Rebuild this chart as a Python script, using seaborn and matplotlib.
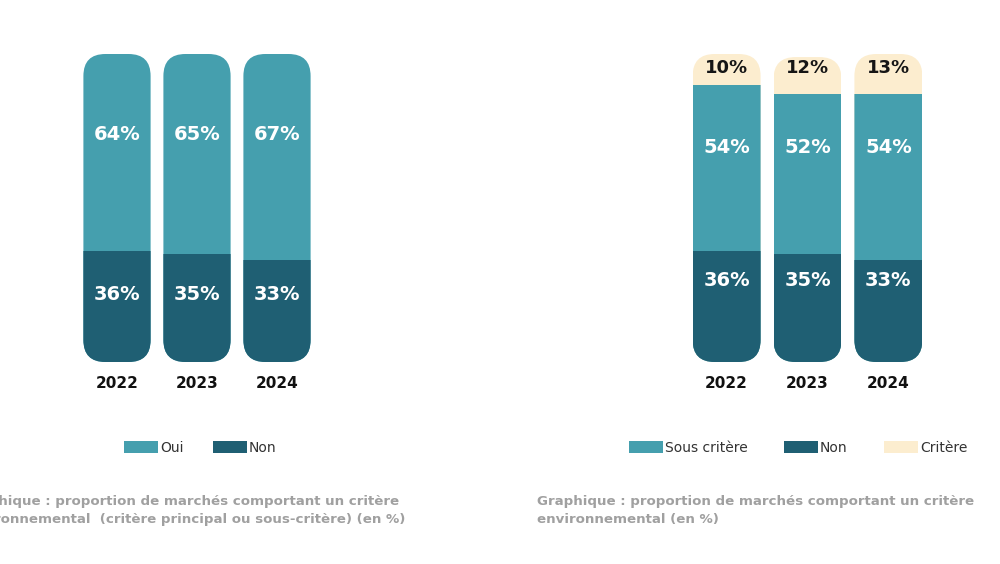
import matplotlib
matplotlib.use("Agg")
import matplotlib.pyplot as plt
import seaborn as sns
import pandas as pd
import numpy as np
from matplotlib.patches import FancyBboxPatch, Patch, BoxStyle

# ---------------- data ----------------
years = ["2022", "2023", "2024"]
left_non = [36, 35, 33]
left_oui = [64, 65, 67]
right_non = [36, 35, 33]
right_sous = [54, 52, 54]
right_critere = [10, 12, 13]

legend_left = ["Oui", "Non"]
legend_right = ["Sous critère", "Non", "Critère"]
caption_left = ("Graphique : proportion de marchés comportant un critère\n"
                "environnemental  (critère principal ou sous-critère) (en %)")
caption_right = ("Graphique : proportion de marchés comportant un critère\n"
                 "environnemental (en %)")

# ---------------- style ----------------
LIGHT = "#459fae"
DARK = "#1f5f73"
CREAM = "#fcedcf"

sns.set_theme(style="white")
plt.rcParams['font.family'] = ['DejaVu Sans']

W, H = 1000, 564
fig = plt.figure(figsize=(10, 5.64), dpi=100)
fig.patch.set_facecolor("white")


def axes_px(x0, x1, ytop, ybot):
    return fig.add_axes([x0 / W, 1 - ybot / H, (x1 - x0) / W, (ybot - ytop) / H])


BAR_W = 0.84
XLIM = (-0.7, 2.7)
RADIUS_PX = 22


def stacked(ax, layers, colors):
    cum = np.cumsum(np.array(layers, dtype=float), axis=0)
    for k in range(len(layers) - 1, -1, -1):
        df = pd.DataFrame({"year": years, "v": cum[k]})
        sns.barplot(data=df, x="year", y="v", order=years, color=colors[k],
                    width=BAR_W, saturation=1, linewidth=0, ax=ax)
    ax.set_xlim(*XLIM)
    ax.set_ylim(0, 100)
    # rounded clipping of each stack
    bb = ax.get_position()
    wpx = bb.width * W
    hpx = bb.height * H
    px_x = wpx / (XLIM[1] - XLIM[0])
    px_y = hpx / 100.0
    aspect = px_x / px_y
    r = RADIUS_PX / px_x
    clips = []
    for i in range(len(years)):
        clip = FancyBboxPatch((i - BAR_W / 2, 0), BAR_W, cum[-1][i],
                              boxstyle=BoxStyle("Round", pad=0, rounding_size=r),
                              mutation_aspect=aspect, transform=ax.transData,
                              facecolor="none", edgecolor="none")
        clips.append(clip)
    for bar in ax.patches:
        cx = bar.get_x() + bar.get_width() / 2
        idx = int(round(cx))
        if 0 <= idx < len(clips):
            bar.set_clip_path(clips[idx])
    for s in ax.spines.values():
        s.set_visible(False)
    ax.set_yticks([])
    ax.set_xlabel("")
    ax.set_ylabel("")
    ax.tick_params(axis="x", length=0, pad=10)
    for t in ax.get_xticklabels():
        t.set_fontsize(11)
        t.set_fontweight("bold")
        t.set_color("#111111")
    ax.set_facecolor("none")


# ---------------- left chart ----------------
ax1 = axes_px(61, 333, 54, 362)
stacked(ax1, [left_non, left_oui], [DARK, LIGHT])
for i in range(len(years)):
    ax1.text(i, 22, f"{left_non[i]}%", ha="center", va="center",
             color="white", fontsize=14, fontweight="bold")
    ax1.text(i, 74, f"{left_oui[i]}%", ha="center", va="center",
             color="white", fontsize=14, fontweight="bold")

# ---------------- right chart ----------------
ax2 = axes_px(670, 945, 54, 362)
stacked(ax2, [right_non, right_sous, right_critere], [DARK, LIGHT, CREAM])
for i in range(len(years)):
    ax2.text(i, 26.3, f"{right_non[i]}%", ha="center", va="center",
             color="white", fontsize=14, fontweight="bold")
    ax2.text(i, 69.5, f"{right_sous[i]}%", ha="center", va="center",
             color="white", fontsize=14, fontweight="bold")
    ax2.text(i, 95.5, f"{right_critere[i]}%", ha="center", va="center",
             color="#151515", fontsize=13, fontweight="bold")

# ---------------- legends ----------------
hl = [Patch(facecolor=LIGHT, edgecolor="none", label=legend_left[0]),
      Patch(facecolor=DARK, edgecolor="none", label=legend_left[1])]
lg1 = fig.legend(handles=hl, ncol=2, loc="center",
                 bbox_to_anchor=(200 / W, 1 - 448 / H), frameon=False,
                 fontsize=10, handlelength=2.45, handleheight=0.9,
                 handletextpad=0.15, columnspacing=2.1, borderpad=0)
hr = [Patch(facecolor=LIGHT, edgecolor="none", label=legend_right[0]),
      Patch(facecolor=DARK, edgecolor="none", label=legend_right[1]),
      Patch(facecolor=CREAM, edgecolor="none", label=legend_right[2])]
lg2 = fig.legend(handles=hr, ncol=3, loc="center",
                 bbox_to_anchor=(798 / W, 1 - 448 / H), frameon=False,
                 fontsize=10, handlelength=2.45, handleheight=0.9,
                 handletextpad=0.15, columnspacing=2.6, borderpad=0)
for lg in (lg1, lg2):
    for t in lg.get_texts():
        t.set_color("#333333")

# ---------------- captions ----------------
fig.text(-38 / W, 1 - 495 / H, caption_left, ha="left", va="top",
         fontsize=9.6, fontweight="bold", color="#a0a0a0", linespacing=1.45)
fig.text(537 / W, 1 - 495 / H, caption_right, ha="left", va="top",
         fontsize=9.6, fontweight="bold", color="#a0a0a0", linespacing=1.45)

fig.savefig("out.png", dpi=100, facecolor="white")
